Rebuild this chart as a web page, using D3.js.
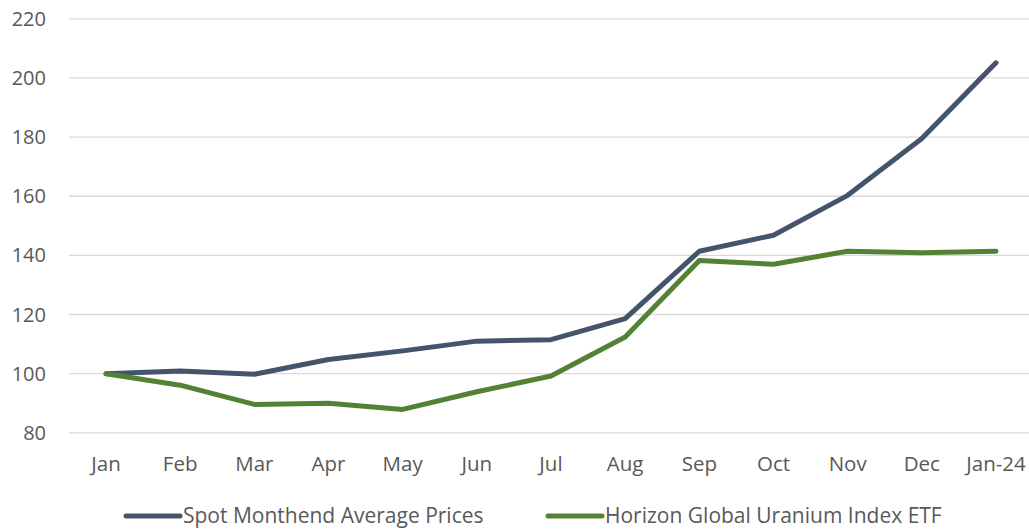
<!DOCTYPE html>
<html>
<head>
<meta charset="utf-8">
<script src="https://cdn.jsdelivr.net/npm/d3@7"></script>
<style>
  body { margin: 0; background: #fff; }
  svg { display: block; font-family: "Open Sans", sans-serif; }
</style>
</head>
<body>
<svg id="chart" width="1029" height="529"></svg>
<script>
const months = ["Jan", "Feb", "Mar", "Apr", "May", "Jun", "Jul", "Aug", "Sep", "Oct", "Nov", "Dec", "Jan-24"];
const spotPrices = [100, 100.9, 99.8, 104.8, 107.7, 111, 111.5, 118.6, 141.4, 146.8, 160.3, 179.5, 205.1];
const etfPrices = [100, 96.1, 89.6, 90.0, 87.9, 93.9, 99.2, 112.4, 138.3, 137.0, 141.4, 140.9, 141.4];
const yTicks = [80, 100, 120, 140, 160, 180, 200, 220];
const seriesNames = ["Spot Monthend Average Prices", "Horizon Global Uranium Index ETF"];
const seriesColors = ["#44546a", "#548235"];

const svg = d3.select("#chart");
const width = 1029, height = 529;
const plotLeft = 69;

const x = d3.scalePoint()
    .domain(months)
    .range([106, 996]);

const y = d3.scaleLinear()
    .domain([80, 220])
    .range([432.8, 18.8]);

// gridlines
svg.append("g")
    .selectAll("line")
    .data(yTicks)
    .join("line")
    .attr("x1", plotLeft)
    .attr("x2", width)
    .attr("y1", d => y(d))
    .attr("y2", d => y(d))
    .attr("stroke", "#d9d9d9")
    .attr("stroke-width", 1.3);

// y labels
svg.append("g")
    .selectAll("text")
    .data(yTicks)
    .join("text")
    .attr("x", 46)
    .attr("y", d => y(d))
    .attr("dy", "0.35em")
    .attr("text-anchor", "end")
    .attr("fill", "#595959")
    .attr("font-size", 20)
    .text(d => d);

// x labels
svg.append("g")
    .selectAll("text")
    .data(months)
    .join("text")
    .attr("x", d => x(d))
    .attr("y", 471)
    .attr("text-anchor", "middle")
    .attr("fill", "#595959")
    .attr("font-size", 20.5)
    .text(d => d);

const line = d3.line()
    .x((d, i) => x(months[i]))
    .y(d => y(d));

[spotPrices, etfPrices].forEach((vals, i) => {
    svg.append("path")
        .datum(vals)
        .attr("fill", "none")
        .attr("stroke", seriesColors[i])
        .attr("stroke-width", 5)
        .attr("stroke-linejoin", "round")
        .attr("stroke-linecap", "round")
        .attr("d", line);
});

// legend
const legendX = [126, 548];
const legend = svg.append("g");
seriesNames.forEach((name, i) => {
    const g = legend.append("g").attr("transform", `translate(${legendX[i]},516)`);
    g.append("line")
        .attr("x1", 0).attr("x2", 54)
        .attr("stroke", seriesColors[i])
        .attr("stroke-width", 5)
        .attr("stroke-linecap", "round");
    g.append("text")
        .attr("x", 57)
        .attr("dy", "0.35em")
        .attr("fill", "#595959")
        .attr("font-size", 21)
        .text(name);
});
</script>
</body>
</html>
